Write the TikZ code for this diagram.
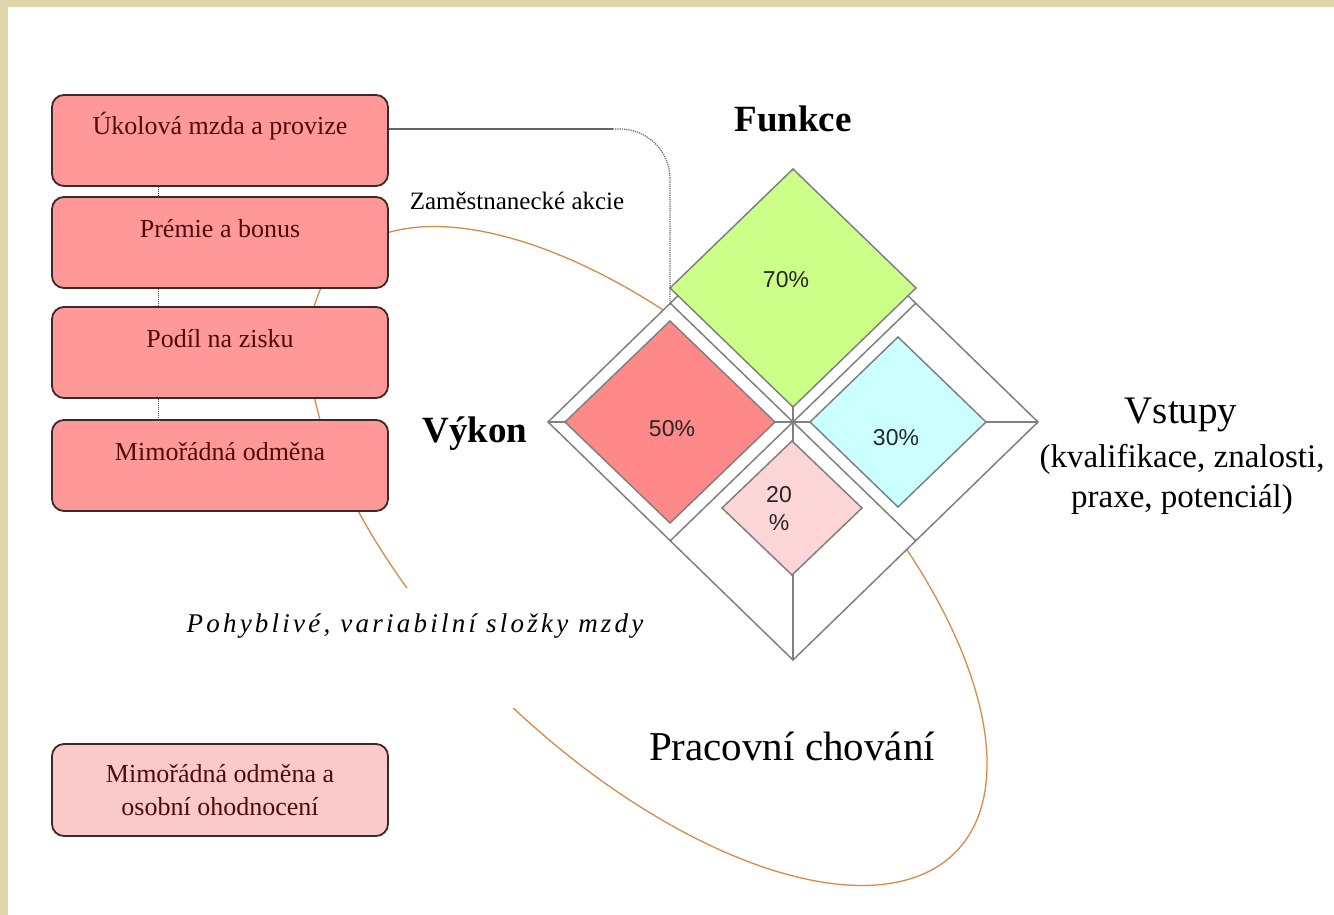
\documentclass[tikz,border=0pt]{standalone}
\usepackage{fontspec}
\setmainfont{Liberation Serif}
\newfontfamily\pctfont{Liberation Sans}
\newfontfamily\spacedfam{Liberation Serif}[LetterSpace=12]
\definecolor{beige}{RGB}{224,214,170}
\definecolor{boxfill}{RGB}{255,153,153}
\definecolor{boxfilllight}{RGB}{250,202,202}
\definecolor{boxborder}{RGB}{60,40,40}
\definecolor{boxtext}{RGB}{80,10,10}
\definecolor{curvecol}{RGB}{214,140,72}
\definecolor{dgreen}{RGB}{204,255,136}
\definecolor{dred}{RGB}{255,136,136}
\definecolor{dcyan}{RGB}{204,255,255}
\definecolor{dpink}{RGB}{252,214,214}
\definecolor{outlinecol}{RGB}{128,128,128}
\begin{document}
\begin{tikzpicture}[x=1pt,y=-1pt,
  box/.style={draw=boxborder, line width=1.8pt, fill=boxfill, rounded corners=12pt,
    minimum width=336pt, inner xsep=0pt, inner ysep=0pt, text height=40pt, text depth=51pt,
    font=\fontsize{26}{30}\selectfont, text=boxtext},
  boxtwo/.style={draw=boxborder, line width=1.8pt, fill=boxfilllight, rounded corners=12pt,
    minimum width=336pt, minimum height=92pt, inner sep=0pt, align=center,
    font=\fontsize{26}{33}\selectfont, text=boxtext},
  link/.style={draw=black!75, line width=1pt, densely dotted},
  conn/.style={draw=black!60, line width=1.2pt},
  frame/.style={draw=outlinecol, line width=1.5pt},
  dia/.style={draw=black!50, line width=1.5pt},
  pct/.style={font=\pctfont\fontsize{23}{28}\selectfont, text=black!85, inner sep=0pt},
  biglabel/.style={font=\bfseries\fontsize{37}{40}\selectfont, inner sep=0pt},
]
\fill[beige] (0,0) rectangle (1334,915);
\fill[white] (8,7) rectangle (1334,915);
\useasboundingbox (0,0) rectangle (1334,915);

% orange loop
\draw[curvecol, line width=1.3pt] plot[domain=0:358, samples=180, smooth cycle]
  ({648+427*cos(43.7)*cos(\x)-203*sin(43.7)*sin(\x)}, {556+427*sin(43.7)*cos(\x)+203*cos(43.7)*sin(\x)});

% italic label (masks the loop)
\node[anchor=base, fill=white, inner sep=0pt, text height=44pt, text depth=76pt,
  font=\spacedfam\itshape\fontsize{27}{30}\selectfont] (pv) at (415,632) {Pohyblivé, variabilní složky mzdy};

% boxes
\node[box] (b1) at (220,140.5) {Úkolová mzda a provize};
\node[box] (b2) at (220,242.5) {Prémie a bonus};
\node[box] (b3) at (220,352.5) {Podíl na zisku};
\node[box] (b4) at (220,465.5) {Mimořádná odměna};
\node[boxtwo] (b5) at (220,790) {Mimořádná odměna a\\osobní ohodnocení};
\coordinate (lx) at (158,0);
\draw[link] (b1.south -| lx) -- (b2.north -| lx);
\draw[link] (b2.south -| lx) -- (b3.north -| lx);
\draw[link] (b3.south -| lx) -- (b4.north -| lx);

% diamond frame
\coordinate (C) at (793,422);
\coordinate (L) at (548,422);
\coordinate (R) at (1038,422);
\coordinate (T) at (793,184);
\coordinate (B) at (793,660);
\coordinate (mLT) at (670,303);
\coordinate (mTR) at (916,303);
\coordinate (mBL) at (670,541);
\coordinate (mBR) at (916,541);
\filldraw[frame, fill=white] (L) -- (T) -- (R) -- (B) -- cycle;
\draw[frame] (mLT) -- (mBR);
\draw[frame] (mTR) -- (mBL);
\draw[frame] (L) -- (R);
\draw[frame] (T) -- (B);
\filldraw[dia, fill=dgreen] (793,169) -- (916,288) -- (793,407) -- (670,288) -- cycle;
\filldraw[dia, fill=dred] (565,422) -- (670,321) -- (775,422) -- (670,523) -- cycle;
\filldraw[dia, fill=dcyan] (810,422) -- (898,337) -- (986,422) -- (898,507) -- cycle;
\filldraw[dia, fill=dpink] (722,508) -- (792,441) -- (862,508) -- (792,575) -- cycle;

\node[pct, anchor=base] (p70) at (786,287) {70\%};
\node[pct, anchor=base] (p50) at (672,436) {50\%};
\node[pct, anchor=base] (p30) at (896,445) {30\%};
\node[pct, align=center, font=\pctfont\fontsize{23}{28}\selectfont] (p20) at (779,509) {20\\\%};

% labels
\node[biglabel, anchor=base] (funkce) at (793,132) {Funkce};
\node[biglabel, anchor=base] (vykon) at (475,442) {Výkon};
\node[anchor=base, inner sep=0pt, font=\fontsize{39}{42}\selectfont] (vstupy) at (1181,423) {Vstupy};
\node[align=center, inner sep=0pt, font=\fontsize{33}{40}\selectfont] (vsub) at (1182,479) {(kvalifikace, znalosti,\\praxe, potenciál)};
\node[anchor=base, inner sep=0pt, font=\fontsize{41}{44}\selectfont] (prac) at (792,760) {Pracovní chování};
\node[anchor=base, inner sep=0pt, font=\fontsize{25}{28}\selectfont] (zam) at (517,210) {Zaměstnanecké akcie};

% connector from first box to the diamond
\coordinate (c1) at (613,129);
\draw[conn] (c1 -| b1.east) -- (c1);
\draw[conn, densely dotted, rounded corners=50pt] (c1) -| (mLT);
\end{tikzpicture}
\end{document}
